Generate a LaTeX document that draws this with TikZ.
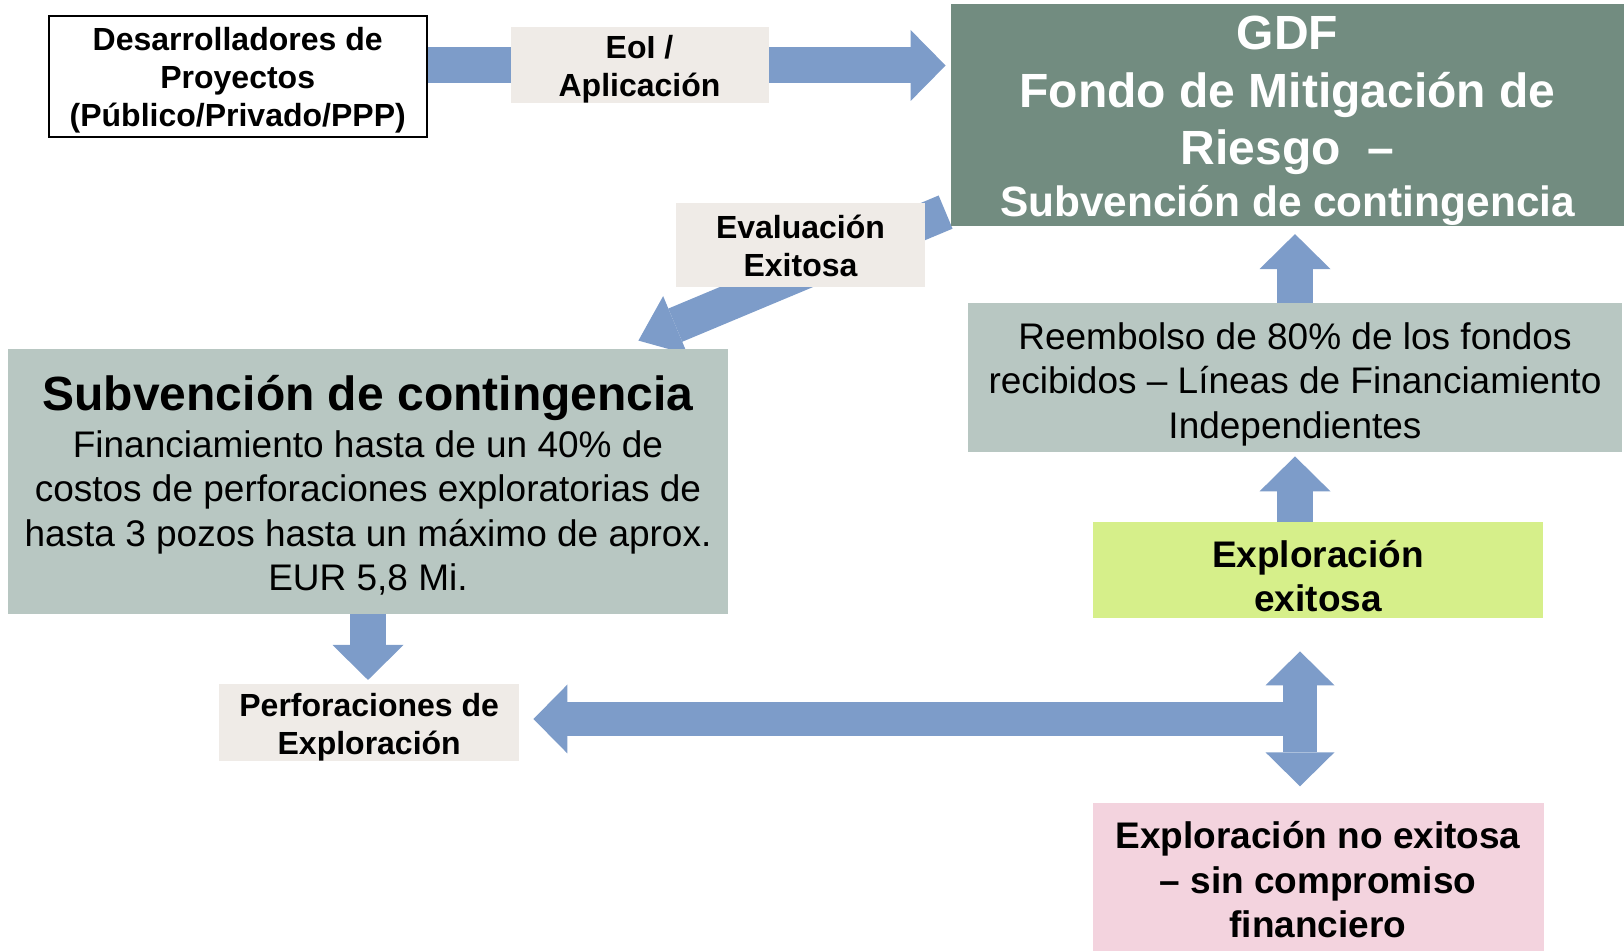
\documentclass[tikz,border=0pt]{standalone}
\usepackage{fontspec}
\setmainfont{Liberation Sans}
\usetikzlibrary{arrows.meta}
\usetikzlibrary{calc}
\usetikzlibrary{backgrounds}
\definecolor{azul}{HTML}{7D9CC9}
\definecolor{verdegdf}{HTML}{728C80}
\definecolor{grisverde}{HTML}{B8C7C2}
\definecolor{beige}{HTML}{EFEBE7}
\definecolor{verdeclaro}{HTML}{D6EF8A}
\definecolor{rosa}{HTML}{F3D3DE}
\newcommand\alto[1]{\rule{0pt}{#1}}
\newcommand\bajo[1]{\rule[-#1]{0pt}{#1}}
\tikzset{
  caja/.style={inner sep=0pt, align=center},
  chico/.style={font=\bfseries\fontsize{16}{19.2}\selectfont},
  flecha/.style={line width=18pt, azul},
  flechafina/.style={line width=16.75pt, azul, >={Triangle[width=34.5pt,length=17pt,line width=0pt]}},
}

\begin{document}
\begin{tikzpicture}[x=0.5pt, y=-0.5pt, >={Triangle[width=35.5pt,length=17.5pt,line width=0pt]}]
        \useasboundingbox (0,0) rectangle (1624,951);
        \node[caja, chico, draw, line width=1pt, fill=white, minimum width=189pt, minimum height=60.5pt] (dev) at (237.7,76.1) {\alto{15.8pt}Desarrolladores de\\Proyectos\\(Público/Privado/PPP)};
        \node[caja, chico, fill=beige, minimum width=129pt, minimum height=38pt] (eol) at (639.5,65.5) {\alto{15.4pt}EoI /\\Aplicación};
        \node[caja, fill=verdegdf, text=white, font=\bfseries\fontsize{24}{28.75}\selectfont, minimum width=336.5pt, minimum height=110pt] (gdf) at (1287.5,115) {\alto{22.8pt}GDF\\Fondo de Mitigación de\\Riesgo\ \ –\\[-2.85pt]{\fontsize{21.2}{25.9}\selectfont Subvención de contingencia}};
        \node[caja, chico, fill=beige, minimum width=124.5pt, minimum height=42pt] (eval) at (800.5,244.7) {\alto{16.5pt}Evaluación\\Exitosa\bajo{3.4pt}};
        \node[caja, fill=grisverde, font=\fontsize{18.5}{22.25}\selectfont, minimum width=360pt, minimum height=132.5pt] (sub) at (368,481.5) {{\alto{22.8pt}\bfseries\fontsize{24}{28}\selectfont Subvención de contingencia}\\[1.25pt]Financiamiento hasta de un 40\% de\\costos de perforaciones exploratorias de\\hasta 3 pozos hasta un máximo de aprox.\\EUR 5,8 Mi.\bajo{3.9pt}};
        \node[caja, chico, fill=beige, minimum width=149.85pt, minimum height=37.85pt] (perf) at (369.2,722.8) {\alto{15.9pt}Perforaciones de\\Exploración};
        \node[caja, fill=grisverde, font=\fontsize{18.5}{22.3}\selectfont, minimum width=327pt, minimum height=74.5pt] (reemb) at (1295,378) {\alto{19.7pt}Reembolso de 80\% de los fondos\\recibidos – Líneas de Financiamiento\\Independientes};
        \node[caja, fill=verdeclaro, font=\bfseries\fontsize{18.5}{22.3}\selectfont, minimum width=225pt, minimum height=48pt] (exito) at (1318,570) {\alto{19.5pt}Exploración\\exitosa};
        \node[caja, fill=rosa, font=\bfseries\fontsize{18.5}{22.3}\selectfont, minimum width=225.5pt, minimum height=77pt] (noexito) at (1318,879.7) {\alto{17.2pt}Exploración no exitosa\\– sin compromiso\\financiero\bajo{3.9pt}};
        \coordinate (cruce) at (1300,719);
        \begin{scope}[on background layer]
            \path[flecha, ->] (dev.east |- eol.center) edge ($(gdf.west |- eol.center)+(-5,0)$);
            \path[flecha, -{Triangle[width=31.5pt,length=20pt,line width=0pt]}] ($(gdf.south west)+(-5,-14)$) edge ($(sub.north east)+(-90,-8)$);
            \path[flecha, ->] (sub.south) edge ($(sub.south |- perf.north)+(0,-4)$);
            \path[flecha, ->] (reemb.north) edge ($(reemb.north |- gdf.south)+(0,8)$);
            \path[flecha, ->] (reemb.south |- exito.north) edge ($(reemb.south)+(0,3.5)$);
            \path[flechafina, ->] (cruce) edge ($(perf.east |- cruce)+(14,0)$);
            \path[flechafina, <->] ($(cruce |- exito.south)+(0,33)$) edge ($(cruce |- noexito.north)+(0,-16)$);
        \end{scope}
    \end{tikzpicture}
\end{document}
